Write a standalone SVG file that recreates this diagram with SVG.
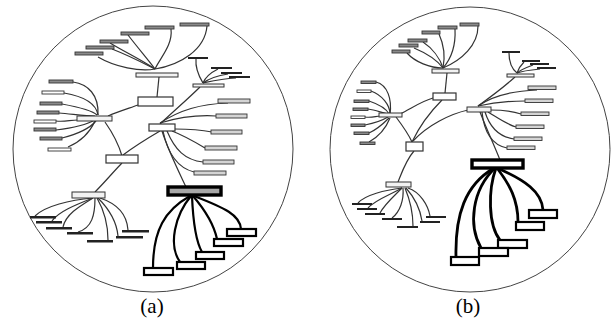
<svg xmlns="http://www.w3.org/2000/svg" width="613" height="322" viewBox="0 0 613 322">
<style>
.frame{fill:none;stroke:#444;stroke-width:1}
.hub{fill:#f2f2f2;stroke:#333;stroke-width:1}
.ctr{fill:#fff;stroke:#333;stroke-width:1.2}
.g{fill:#8a8a8a;stroke:#333;stroke-width:0.9}
.l{fill:#d4d4d4;stroke:#333;stroke-width:0.9}
.w{fill:#fff;stroke:#333;stroke-width:0.9}
.d{fill:#222;stroke:none}
.big{fill:#a8a8a8;stroke:#000;stroke-width:3.4}
.ch{fill:#fff;stroke:#000;stroke-width:2.2}
.e{fill:none;stroke:#333;stroke-width:1.2}
.eb{fill:none;stroke:#000;stroke-width:2.2}
.eb2{fill:none;stroke:#000;stroke-width:2.8}
.lab{font-family:"Liberation Serif",serif;font-size:21px;fill:#000;text-anchor:middle}
</style>
<ellipse class="frame" cx="153" cy="149" rx="140" ry="143"/>
<ellipse class="frame" cx="470" cy="149.5" rx="140" ry="142.5"/>
<g id="connectors">
<path class="e" d="M171,29 C173,45 160,58 155,69"/>
<path class="e" d="M207,26 C205,50 180,65 155,69"/>
<path class="e" d="M128,35 C138,48 150,62 155,69"/>
<path class="e" d="M110,43 C125,52 145,62 155,69"/>
<path class="e" d="M112,49 C130,56 145,64 155,69"/>
<path class="e" d="M98,57 C115,67 140,72 155,69"/>
<path class="e" d="M196,59 C195,70 200,78 203,83"/>
<path class="e" d="M218,69 C210,73 205,78 203,83"/>
<path class="e" d="M228,74 C215,76 207,80 203,83"/>
<path class="e" d="M236,78 C220,79 208,82 203,83"/>
<path class="e" d="M159,77 L157,97"/>
<path class="e" d="M108,116 C120,111 130,108 138,105"/>
<path class="e" d="M105,122 C112,132 118,142 122,156"/>
<path class="e" d="M123,155 C135,146 148,138 160,131"/>
<path class="e" d="M160,124 C175,110 190,97 200,87"/>
<path class="e" d="M162,131 C168,150 178,170 186,187"/>
<path class="e" d="M95,192 C105,182 115,170 122,163"/>
<path class="e" d="M73,82 C88,84 99,95 98,115"/>
<path class="e" d="M64,93 C82,96 96,103 98,115"/>
<path class="e" d="M62,104 C78,107 92,110 97,115"/>
<path class="e" d="M59,113 C72,114 85,116 95,116"/>
<path class="e" d="M56,121 C65,122 70,120 78,120"/>
<path class="e" d="M56,130 C72,128 88,124 95,120"/>
<path class="e" d="M62,138 C78,134 90,128 96,121"/>
<path class="e" d="M68,147 C80,142 90,132 95,121"/>
<path class="e" d="M160,123 C180,110 200,104 228,103"/>
<path class="e" d="M160,123 C180,117 200,115 216,116"/>
<path class="e" d="M175,129 C190,129 202,130 212,132"/>
<path class="e" d="M172,131 C185,136 195,142 205,148"/>
<path class="e" d="M167,131 C175,150 185,160 203,162"/>
<path class="e" d="M163,131 C168,155 178,168 194,172"/>
<path class="eb" d="M194,196 C225,208 240,215 241,229"/>
<path class="eb" d="M193,196 C205,210 214,225 217,239"/>
<path class="eb" d="M192,196 C193,220 195,240 202,252"/>
<path class="eb" d="M191,196 C175,215 168,245 180,262"/>
<path class="eb" d="M190,196 C165,210 153,230 153,268"/>
<path class="e" d="M93,198 C70,200 45,206 35,216"/>
<path class="e" d="M93,198 C75,205 58,212 52,221"/>
<path class="e" d="M93,198 C80,206 66,214 63,227"/>
<path class="e" d="M95,198 C95,215 92,228 78,232"/>
<path class="e" d="M97,198 C105,212 108,225 108,240"/>
<path class="e" d="M98,198 C112,212 117,225 118,236"/>
<path class="e" d="M100,198 C118,204 127,215 128,230"/>
<path class="e" d="M478,26 C478,45 462,60 443,68"/>
<path class="e" d="M455,29 C456,48 450,60 443,68"/>
<path class="e" d="M439,34 C444,45 445,58 443,68"/>
<path class="e" d="M423,42 C432,48 440,58 443,68"/>
<path class="e" d="M414,48 C426,53 437,60 443,68"/>
<path class="e" d="M407,53 C415,62 430,68 443,68"/>
<path class="e" d="M447,73 L445,93"/>
<path class="e" d="M400,114 C412,108 422,101 433,98"/>
<path class="e" d="M396,117 C402,125 408,133 412,142"/>
<path class="e" d="M412,142 C420,125 432,110 442,100"/>
<path class="e" d="M413,141 C428,125 450,114 468,110"/>
<path class="e" d="M478,106 C492,96 505,86 515,77"/>
<path class="e" d="M480,112 C487,130 494,145 500,160"/>
<path class="e" d="M398,182 C402,172 406,160 414,151"/>
<path class="e" d="M376,82 C388,85 392,100 390,114"/>
<path class="e" d="M371,91 C382,95 390,105 390,114"/>
<path class="e" d="M369,101 C378,104 386,108 389,114"/>
<path class="e" d="M368,109 C376,110 382,113 388,114"/>
<path class="e" d="M365,117 C372,118 376,116 380,116"/>
<path class="e" d="M365,125 C375,123 383,120 388,117"/>
<path class="e" d="M369,133 C378,129 385,122 389,118"/>
<path class="e" d="M369,142 C378,137 386,128 390,118"/>
<path class="e" d="M478,106 C492,96 510,91 537,90"/>
<path class="e" d="M478,106 C495,102 510,101 525,101"/>
<path class="e" d="M490,110 C502,110 512,111 521,114"/>
<path class="e" d="M488,112 C498,118 506,124 516,127"/>
<path class="e" d="M485,112 C490,128 500,137 514,139"/>
<path class="e" d="M482,112 C484,132 492,145 507,148"/>
<path class="e" d="M509,53 C509,63 512,69 517,73"/>
<path class="e" d="M524,62 C520,66 518,70 517,73"/>
<path class="e" d="M533,65 C525,68 520,70 517,73"/>
<path class="e" d="M540,69 C530,70 522,71 517,73"/>
<path class="eb2" d="M497,168 C525,180 542,192 543,210"/>
<path class="eb2" d="M497,168 C510,185 518,200 518,222"/>
<path class="eb2" d="M496,168 C488,190 488,225 500,240"/>
<path class="eb2" d="M495,168 C472,190 468,225 481,248"/>
<path class="eb2" d="M494,168 C465,185 455,215 456,257"/>
<path class="e" d="M402,188 C385,190 365,195 358,203"/>
<path class="e" d="M402,188 C390,195 375,200 368,208"/>
<path class="e" d="M402,188 C392,198 384,205 380,213"/>
<path class="e" d="M403,188 C404,200 400,212 392,218"/>
<path class="e" d="M405,188 C410,200 413,212 413,226"/>
<path class="e" d="M406,188 C415,198 420,208 422,221"/>
<path class="e" d="M408,188 C420,192 428,205 430,216"/>
</g>
<g id="a-top-hub"><rect class="hub" x="136" y="73" width="42" height="4"/></g>
<g id="a-t1"><rect class="g" x="145" y="26" width="29" height="3"/></g>
<g id="a-t2"><rect class="g" x="180" y="23" width="29" height="3"/></g>
<g id="a-t3"><rect class="g" x="121" y="32" width="28" height="3"/></g>
<g id="a-t4"><rect class="g" x="100" y="40" width="28" height="3"/></g>
<g id="a-t5"><rect class="g" x="86" y="46" width="28" height="3"/></g>
<g id="a-t6"><rect class="g" x="75" y="52" width="28" height="3"/></g>
<g id="a-tr-hub"><rect class="hub" x="193" y="84" width="31" height="3"/></g>
<g id="a-tr1"><rect class="d" x="188" y="57" width="20" height="2"/></g>
<g id="a-tr2"><rect class="d" x="211" y="67" width="21" height="2"/></g>
<g id="a-tr3"><rect class="d" x="221" y="72" width="21" height="2"/></g>
<g id="a-tr4"><rect class="d" x="229" y="76" width="21" height="2"/></g>
<g id="a-center-top"><rect class="ctr" x="138" y="97" width="35" height="9"/></g>
<g id="a-left-hub"><rect class="hub" x="77" y="116" width="35" height="5"/></g>
<g id="a-l1"><rect class="g" x="49" y="80" width="24" height="3"/></g>
<g id="a-l2"><rect class="w" x="42" y="91" width="22" height="3"/></g>
<g id="a-l3"><rect class="g" x="40" y="102" width="22" height="3"/></g>
<g id="a-l4"><rect class="g" x="37" y="111" width="22" height="3"/></g>
<g id="a-l5"><rect class="w" x="34" y="120" width="22" height="3"/></g>
<g id="a-l6"><rect class="g" x="34" y="128" width="22" height="3"/></g>
<g id="a-l7"><rect class="g" x="40" y="137" width="22" height="3"/></g>
<g id="a-l8"><rect class="w" x="48" y="148" width="23" height="3"/></g>
<g id="a-center-left"><rect class="ctr" x="106" y="155" width="32" height="8"/></g>
<g id="a-right-hub"><rect class="ctr" x="149" y="124" width="26" height="7"/></g>
<g id="a-r1"><rect class="l" x="218" y="99" width="32" height="4"/></g>
<g id="a-r2"><rect class="l" x="216" y="114" width="31" height="4"/></g>
<g id="a-r3"><rect class="l" x="211" y="130" width="31" height="4"/></g>
<g id="a-r4"><rect class="l" x="205" y="146" width="32" height="4"/></g>
<g id="a-r5"><rect class="l" x="203" y="160" width="31" height="4"/></g>
<g id="a-r6"><rect class="l" x="194" y="171" width="32" height="4"/></g>
<g id="a-big"><rect class="big" x="168" y="187" width="53" height="8"/></g>
<g id="a-b1"><rect class="ch" x="227" y="229" width="29" height="7"/></g>
<g id="a-b2"><rect class="ch" x="214" y="239" width="29" height="7"/></g>
<g id="a-b3"><rect class="ch" x="196" y="252" width="28" height="7"/></g>
<g id="a-b4"><rect class="ch" x="177" y="262" width="28" height="7"/></g>
<g id="a-b5"><rect class="ch" x="144" y="268" width="29" height="7"/></g>
<g id="a-bl-hub"><rect class="hub" x="72" y="192" width="33" height="6"/></g>
<g id="a-bl1"><rect class="d" x="30" y="216" width="26" height="2.5"/></g>
<g id="a-bl2"><rect class="d" x="36" y="221" width="26" height="2.5"/></g>
<g id="a-bl3"><rect class="d" x="46" y="227" width="26" height="2.5"/></g>
<g id="a-bl4"><rect class="d" x="67" y="232" width="26" height="2.5"/></g>
<g id="a-bl5"><rect class="d" x="87" y="240" width="26" height="2.5"/></g>
<g id="a-bl6"><rect class="d" x="116" y="236" width="27" height="2.5"/></g>
<g id="a-bl7"><rect class="d" x="122" y="230" width="27" height="2.5"/></g>
<g id="b-top-hub"><rect class="hub" x="432" y="69" width="27" height="4"/></g>
<g id="b-t1"><rect class="g" x="460" y="23" width="19" height="3"/></g>
<g id="b-t2"><rect class="g" x="438" y="26" width="19" height="3"/></g>
<g id="b-t3"><rect class="g" x="422" y="31" width="18" height="3"/></g>
<g id="b-t4"><rect class="g" x="408" y="39" width="19" height="3"/></g>
<g id="b-t5"><rect class="g" x="399" y="44" width="19" height="3"/></g>
<g id="b-t6"><rect class="g" x="392" y="50" width="18" height="3"/></g>
<g id="b-center-top"><rect class="ctr" x="433" y="93" width="23" height="7"/></g>
<g id="b-left-hub"><rect class="hub" x="379" y="113" width="23" height="4"/></g>
<g id="b-l1"><rect class="g" x="361" y="81" width="15" height="2.5"/></g>
<g id="b-l2"><rect class="w" x="357" y="90" width="14" height="2.5"/></g>
<g id="b-l3"><rect class="g" x="354" y="100" width="15" height="2.5"/></g>
<g id="b-l4"><rect class="g" x="353" y="108" width="15" height="2.5"/></g>
<g id="b-l5"><rect class="w" x="351" y="116" width="14" height="2.5"/></g>
<g id="b-l6"><rect class="g" x="351" y="124" width="14" height="2.5"/></g>
<g id="b-l7"><rect class="g" x="354" y="132" width="15" height="2.5"/></g>
<g id="b-l8"><rect class="g" x="360" y="142" width="15" height="2.5"/></g>
<g id="b-center-left"><rect class="ctr" x="406" y="142" width="17" height="9"/></g>
<g id="b-right-hub"><rect class="hub" x="467" y="107" width="24" height="5"/></g>
<g id="b-r1"><rect class="l" x="528" y="86" width="28" height="3.5"/></g>
<g id="b-r2"><rect class="l" x="525" y="99" width="28" height="3.5"/></g>
<g id="b-r3"><rect class="l" x="521" y="112" width="28" height="3.5"/></g>
<g id="b-r4"><rect class="l" x="516" y="125" width="28" height="3.5"/></g>
<g id="b-r5"><rect class="l" x="514" y="137" width="28" height="3.5"/></g>
<g id="b-r6"><rect class="l" x="507" y="146" width="28" height="3.5"/></g>
<g id="b-tr-hub"><rect class="hub" x="507" y="74" width="27" height="3"/></g>
<g id="b-tr1"><rect class="d" x="502" y="51" width="18" height="2"/></g>
<g id="b-tr2"><rect class="d" x="522" y="60" width="18" height="2"/></g>
<g id="b-tr3"><rect class="d" x="530" y="63" width="19" height="2"/></g>
<g id="b-tr4"><rect class="d" x="537" y="67" width="19" height="2"/></g>
<g id="b-big"><rect class="big" x="472" y="160" width="51" height="8" style="fill:#fff"/></g>
<g id="b-b1"><rect class="ch" x="529" y="210" width="28" height="8"/></g>
<g id="b-b2"><rect class="ch" x="516" y="222" width="28" height="8"/></g>
<g id="b-b3"><rect class="ch" x="498" y="240" width="29" height="8"/></g>
<g id="b-b4"><rect class="ch" x="479" y="248" width="29" height="8"/></g>
<g id="b-b5"><rect class="ch" x="451" y="257" width="28" height="8"/></g>
<g id="b-bl-hub"><rect class="hub" x="386" y="182" width="25" height="5"/></g>
<g id="b-bl1"><rect class="d" x="352" y="203" width="20" height="2"/></g>
<g id="b-bl2"><rect class="d" x="357" y="208" width="20" height="2"/></g>
<g id="b-bl3"><rect class="d" x="365" y="213" width="20" height="2"/></g>
<g id="b-bl4"><rect class="d" x="382" y="218" width="20" height="2"/></g>
<g id="b-bl5"><rect class="d" x="397" y="226" width="21" height="2"/></g>
<g id="b-bl6"><rect class="d" x="420" y="221" width="20" height="2"/></g>
<g id="b-bl7"><rect class="d" x="426" y="216" width="20" height="2"/></g>
<text class="lab" x="152" y="313">(a)</text>
<text class="lab" x="468" y="313">(b)</text>
</svg>
